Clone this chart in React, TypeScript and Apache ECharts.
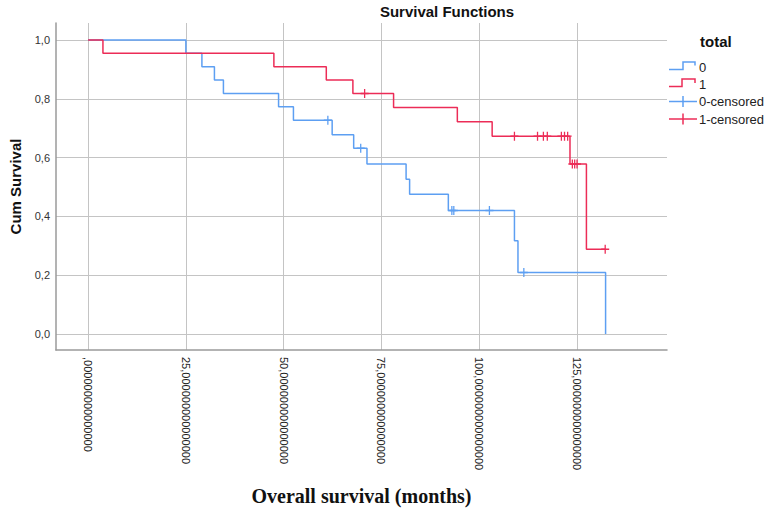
import React, { useEffect, useRef } from "react";
import * as echarts from "echarts";

// Group 0 (blue): Kaplan-Meier step points (time in months, cumulative survival)
const group0Times = [0, 25.0, 29.1, 32.3, 34.6, 48.7, 52.5, 62.4, 67.9, 71.3, 81.3, 82.2, 92.1, 109.0, 109.9, 132.3];
const group0Surv = [1.0, 0.955, 0.909, 0.864, 0.818, 0.773, 0.727, 0.678, 0.632, 0.578, 0.526, 0.475, 0.42, 0.317, 0.209, 0.0];
// Group 0 censored observations
const group0CensTimes = [61.3, 69.7, 93.0, 93.5, 102.6, 111.4];
const group0CensSurv = [0.727, 0.632, 0.42, 0.42, 0.42, 0.209];

// Group 1 (red)
const group1Times = [0, 3.8, 47.5, 60.9, 67.7, 78.1, 94.4, 103.3, 123.2, 127.4, 132.2];
const group1Surv = [1.0, 0.955, 0.909, 0.864, 0.818, 0.77, 0.722, 0.673, 0.578, 0.288, 0.288];
const group1CensTimes = [70.7, 109.0, 114.9, 116.4, 117.4, 121.0, 121.8, 122.6, 123.8, 124.4, 125.0, 132.2];
const group1CensSurv = [0.818, 0.673, 0.673, 0.673, 0.673, 0.673, 0.673, 0.673, 0.578, 0.578, 0.578, 0.288];

const xTicks = [0, 25, 50, 75, 100, 125];
const yTicks = [0, 0.2, 0.4, 0.6, 0.8, 1.0];

const legendTitle = "total";
const legendLabels = ["0", "1", "0-censored", "1-censored"];

const BLUE = "#5d9ff2";
const RED = "#ec2c57";

const plusPath =
  "path://M4.2,0 L5.8,0 L5.8,4.2 L10,4.2 L10,5.8 L5.8,5.8 L5.8,10 L4.2,10 L4.2,5.8 L0,5.8 L0,4.2 L4.2,4.2 Z";

const zip = (a: number[], b: number[]) => a.map((v, i) => [v, b[i]]);

export default function App() {
  const ref = useRef<HTMLDivElement>(null);

  useEffect(() => {
    if (!ref.current) return;
    const chart = echarts.init(ref.current, undefined, { renderer: "svg" });
    const sans = "Liberation Sans, Arial, sans-serif";
    const option: any = {
      animation: false,
      backgroundColor: "#ffffff",
      grid: { left: 55, right: 104, top: 23, bottom: 162 },
      xAxis: {
        type: "value",
        min: -8.2,
        max: 148.0,
        name: "Overall survival (months)",
        nameLocation: "middle",
        nameGap: 136,
        nameTextStyle: {
          fontFamily: "Liberation Serif, Times New Roman, serif",
          fontWeight: "bold",
          fontSize: 20,
          color: "#111",
        },
        axisLine: { show: true, onZero: false, lineStyle: { color: "#9a9a9a", width: 1.5 } },
        axisTick: { show: false, customValues: xTicks },
        axisLabel: {
          customValues: xTicks,
          rotate: -90,
          margin: 7,
          fontSize: 11,
          fontFamily: sans,
          color: "#222",
          formatter: (v: number) => (v === 0 ? "" : String(v)) + ",000000000000000",
        },
        splitLine: { show: true, lineStyle: { color: "#c4c4c4", width: 1 } },
      },
      yAxis: {
        type: "value",
        min: -0.0544,
        max: 1.0578,
        name: "Cum Survival",
        nameLocation: "middle",
        nameGap: 33,
        nameRotate: 90,
        nameTextStyle: { fontFamily: sans, fontWeight: "bold", fontSize: 15, color: "#111" },
        axisLine: { show: true, onZero: false, lineStyle: { color: "#9a9a9a", width: 1.5 } },
        axisTick: { show: false, customValues: yTicks },
        axisLabel: {
          customValues: yTicks,
          margin: 6,
          fontSize: 11,
          fontFamily: sans,
          color: "#333",
          formatter: (v: number) => v.toFixed(1).replace(".", ","),
        },
        splitLine: { show: true, lineStyle: { color: "#c4c4c4", width: 1 } },
      },
      series: [
        {
          name: "0",
          type: "line",
          step: "end",
          data: zip(group0Times, group0Surv),
          showSymbol: false,
          symbol: "none",
          lineStyle: { color: BLUE, width: 1.5 },
          z: 3,
        },
        {
          name: "1",
          type: "line",
          step: "end",
          data: zip(group1Times, group1Surv),
          showSymbol: false,
          symbol: "none",
          lineStyle: { color: RED, width: 1.5 },
          z: 4,
        },
        {
          name: "0-censored",
          type: "scatter",
          data: zip(group0CensTimes, group0CensSurv),
          symbol: plusPath,
          symbolSize: [8, 9],
          itemStyle: { color: BLUE, opacity: 1 },
          z: 5,
        },
        {
          name: "1-censored",
          type: "scatter",
          data: zip(group1CensTimes, group1CensSurv),
          symbol: plusPath,
          symbolSize: [8, 9],
          itemStyle: { color: RED, opacity: 1 },
          z: 6,
        },
      ],
      graphic: [
        {
          type: "text",
          x: 447,
          y: 11,
          style: {
            text: "Survival Functions",
            font: "bold 15px Liberation Sans, Arial, sans-serif",
            fill: "#111",
            align: "center",
            verticalAlign: "middle",
          },
        },
        {
          type: "text",
          x: 700,
          y: 41,
          style: {
            text: legendTitle,
            font: "bold 15px Liberation Sans, Arial, sans-serif",
            fill: "#111",
            align: "left",
            verticalAlign: "middle",
          },
        },
        {
          type: "polyline",
          shape: { points: [[669, 69.5], [683, 69.5], [683, 62], [695, 62], [695, 65.5]] },
          style: { stroke: BLUE, lineWidth: 1.5, fill: null },
        },
        {
          type: "polyline",
          shape: { points: [[669, 86.5], [682, 86.5], [682, 79], [695, 79], [695, 83]] },
          style: { stroke: RED, lineWidth: 1.5, fill: null },
        },
        { type: "line", shape: { x1: 669, y1: 101.5, x2: 697, y2: 101.5 }, style: { stroke: BLUE, lineWidth: 1.5 } },
        { type: "line", shape: { x1: 683, y1: 96, x2: 683, y2: 107 }, style: { stroke: BLUE, lineWidth: 1.5 } },
        { type: "line", shape: { x1: 669, y1: 119, x2: 697, y2: 119 }, style: { stroke: RED, lineWidth: 1.5 } },
        { type: "line", shape: { x1: 683, y1: 113.5, x2: 683, y2: 124.5 }, style: { stroke: RED, lineWidth: 1.5 } },
        ...legendLabels.map((t, i) => ({
          type: "text",
          x: 699,
          y: [67, 84, 101.5, 119][i],
          style: {
            text: t,
            font: "13px Liberation Sans, Arial, sans-serif",
            fill: "#222",
            align: "left",
            verticalAlign: "middle",
          },
        })),
      ],
    };
    chart.setOption(option);
    return () => chart.dispose();
  }, []);

  return <div ref={ref} style={{ width: 771, height: 512, position: "absolute", left: 0, top: 0 }} />;
}
